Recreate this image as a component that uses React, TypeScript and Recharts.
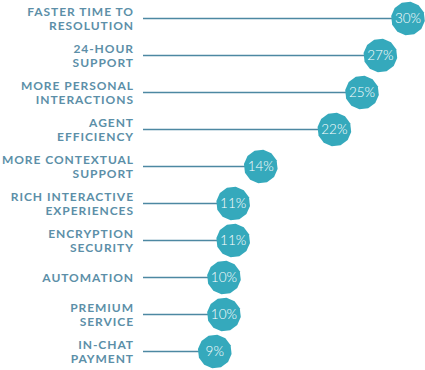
import React from "react";
import { BarChart, Bar, XAxis, YAxis } from "recharts";

const categories = [
  "FASTER TIME TO|RESOLUTION",
  "24-HOUR|SUPPORT",
  "MORE PERSONAL|INTERACTIONS",
  "AGENT|EFFICIENCY",
  "MORE CONTEXTUAL|SUPPORT",
  "RICH INTERACTIVE|EXPERIENCES",
  "ENCRYPTION|SECURITY",
  "AUTOMATION",
  "PREMIUM|SERVICE",
  "IN-CHAT|PAYMENT",
];
const values = [30, 27, 25, 22, 14, 11, 11, 10, 10, 9];

const data = categories.map((c, i) => ({ name: c, value: values[i] }));

const MARKER = "#35a9bc";
const LINE = "#4d88a2";
const LABEL = "#5c8fa8";

const Tick = (props: any) => {
  const { x, y, payload } = props;
  const lines = String(payload.value).split("|");
  const offsets = lines.length === 1 ? [4.5] : [-2.6, 11];
  return (
    <g>
      {lines.map((l, i) => (
        <text
          key={i}
          x={x}
          y={y + offsets[i]}
          textAnchor="end"
          fill={LABEL}
          fontFamily="Lato, 'Open Sans', sans-serif"
          fontWeight={700}
          fontSize={12}
          letterSpacing={0.95}
        >
          {l}
        </text>
      ))}
    </g>
  );
};

const Lollipop = (props: any) => {
  const { x, y, width, height, value } = props;
  const cy = y + height / 2;
  const cx = x + width;
  const r = 17;
  const n = 12;
  const pts: string[] = [];
  for (let k = 0; k < n; k++) {
    const a = (Math.PI * 2 * k) / n + 0.15;
    pts.push(`${cx + r * Math.cos(a)},${cy + r * Math.sin(a)}`);
  }
  return (
    <g>
      <line x1={x} y1={cy} x2={cx} y2={cy} stroke={LINE} strokeWidth={1.5} />
      <polygon points={pts.join(" ")} fill={MARKER} />
      <text
        x={cx}
        y={cy + 4.7}
        textAnchor="middle"
        fill="#ffffff"
        fontFamily="Lato, 'Open Sans', sans-serif"
        fontWeight={300}
        fontSize={13.5}
      >
        {value}%
      </text>
    </g>
  );
};

export default function App() {
  return (
    <div style={{ position: "absolute", left: 0, top: 0, width: 425, height: 370 }}>
      <BarChart
        width={425}
        height={370}
        data={data}
        layout="vertical"
        margin={{ top: 0, right: 17, bottom: 0, left: 0 }}
        barCategoryGap={0}
      >
        <XAxis type="number" domain={[1.2, 30]} hide />
        <YAxis
          type="category"
          dataKey="name"
          width={143}
          axisLine={false}
          tickLine={false}
          tickSize={0}
          tickMargin={9}
          tick={<Tick />}
          interval={0}
        />
        <Bar dataKey="value" isAnimationActive={false} shape={<Lollipop />} />
      </BarChart>
    </div>
  );
}
